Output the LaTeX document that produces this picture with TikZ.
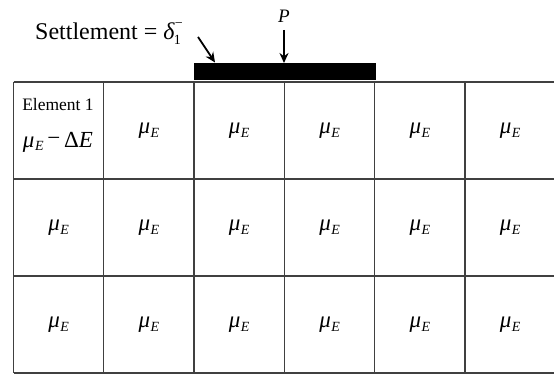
\documentclass[tikz,border=0pt]{standalone}
\usepackage{fontspec}
\setmainfont{Liberation Serif}
\usetikzlibrary{arrows.meta}
\newcommand{\myMuE}{\textit{μ}\kern0.5pt\raisebox{-0.35ex}{\fontsize{14}{14}\selectfont\textit{E}}}
\begin{document}
\begin{tikzpicture}[x=1pt,y=-1pt,
  gridline/.style={draw=black!75,line width=1.3pt},
  celltext/.style={font=\fontsize{23}{25}\selectfont,inner sep=0pt},
  arr/.style={-{Stealth[length=10pt,width=9pt]},line width=1.8pt}]
\useasboundingbox (0,0) rectangle (554,374);
\begin{scope}
\clip (0,0) rectangle (554,374);
% grid lines
\foreach \j in {0,...,3}{
  \pgfmathsetmacro{\ya}{82+97*\j}
  \draw[gridline] (13.5,\ya) -- (560,\ya);
}
\foreach \i in {0,...,5}{
  \pgfmathsetmacro{\xa}{13.5+90.3*\i}
  \draw[gridline] (\xa,82) -- (\xa,373);
}
\end{scope}
% cell labels
\foreach \i in {0,...,5}{
  \foreach \j in {0,1,2}{
    \pgfmathsetmacro{\xc}{13.5+45.15+90.3*\i}
    \pgfmathsetmacro{\yc}{82+48.5+97*\j}
    \ifnum\i=0 \ifnum\j=0 \else
      \node[celltext] (c\i\j) at (\xc,\yc) {\myMuE};
    \fi\else
      \node[celltext] (c\i\j) at (\xc,\yc) {\myMuE};
    \fi
  }
}
\node[font=\fontsize{17.5}{19}\selectfont,inner sep=0pt] (el) at (58,105) {Element 1};
\node[celltext] (el2) at (58,142) {\myMuE\,\raisebox{0.2ex}{−}\,Δ\textit{E}};
% footing
\node[fill=black,minimum width=182pt,minimum height=17pt,inner sep=0pt,anchor=north west] (foot) at (193.5,63) {};
% load P
\node[font=\fontsize{19}{20}\selectfont\itshape,inner sep=0pt] (P) at (284,16) {P};
\coordinate (Ptop) at (284,30);
\draw[arr] (Ptop) -- (foot.north -| Ptop);
% settlement
\node[font=\fontsize{24}{26}\selectfont,inner sep=0pt,anchor=base west] (set) at (35,40)
  {Settlement = \textit{δ}\kern-1pt\raisebox{-0.45ex}{\fontsize{14}{14}\selectfont 1}\kern-6pt\raisebox{1.1ex}{\fontsize{14}{14}\selectfont −}};
\coordinate (sa) at (198,37);
\coordinate (sb) at (215,62.5);
\draw[arr] (sa) -- (sb);
\end{tikzpicture}
\end{document}
